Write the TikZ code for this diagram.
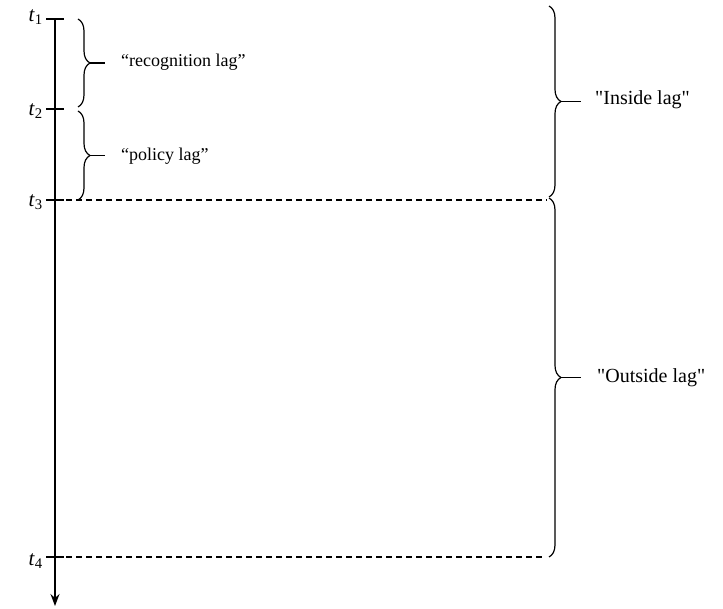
\documentclass[tikz,border=0pt]{standalone}
\usepackage{fontspec}
\setmainfont{Liberation Serif}
\newfontfamily\nomapfont{Liberation Serif}[Ligatures=TeXOff]
\usetikzlibrary{decorations.pathreplacing,arrows.meta}
\newcommand{\sq}{{\nomapfont\symbol{34}}}
\begin{document}
\begin{tikzpicture}[x=1pt,y=-1pt,
  lbl/.style={font=\fontsize{18}{21}\selectfont, anchor=west, inner sep=0pt},
  biglbl/.style={font=\fontsize{20}{23}\selectfont, anchor=west, inner sep=0pt},
  tl/.style={font=\fontsize{21}{24}\selectfont, anchor=east, inner sep=0pt},
  brc/.style={decorate, decoration={brace, amplitude=12pt}, line width=1.2pt},
  tick/.style={line width=1.2pt},
  dsh/.style={line width=1.1pt, dash pattern=on 6pt off 4pt}]
\useasboundingbox (0,0) rectangle (723,609);
% axis points
\coordinate (a1) at (55,19);
\coordinate (a2) at (55,109);
\coordinate (a3) at (55,200);
\coordinate (a4) at (55,557);
\coordinate (aend) at (55,606);
\draw[line width=1.6pt, -{Stealth[length=12pt,width=9pt,inset=4pt]}] (a1) -- (aend);
\foreach \i in {1,2,3,4} \draw[tick] ([xshift=-9pt]a\i) -- ([xshift=9pt]a\i);
\node[tl] (t1) at (43,17) {\textit{t}\textsubscript{1}};
\node[tl] (t2) at (43,111) {\textit{t}\textsubscript{2}};
\node[tl] (t3) at (43,202) {\textit{t}\textsubscript{3}};
\node[tl] (t4) at (43,561) {\textit{t}\textsubscript{4}};
% dashed lines
\coordinate (d3) at (547,200);
\coordinate (d4) at (545,557);
\draw[dsh] ([xshift=11pt]a3) -- (d3);
\draw[dsh] ([xshift=11pt]a4) -- (d4);
% small braces
\coordinate (b1t) at (78,19);
\coordinate (b1b) at (78,107);
\coordinate (b2t) at (78,111);
\coordinate (b2b) at (78,200);
\draw[brc] (b1t) -- (b1b);
\draw[brc] (b2t) -- (b2b);
\coordinate (b1m) at (90,63);
\coordinate (b2m) at (90,155.5);
\node[lbl] (rec) at (121,62) {``recognition lag''};
\node[lbl] (pol) at (121,156) {``policy lag''};
\draw[line width=1.2pt] (b1m) -- ++(15,0);
\draw[line width=1.2pt] (b2m) -- ++(15,0);
% big braces
\coordinate (B1t) at (549,6);
\coordinate (B1b) at (549,197);
\coordinate (B2t) at (549,198);
\coordinate (B2b) at (549,557);
\draw[brc] (B1t) -- (B1b);
\draw[brc] (B2t) -- (B2b);
\coordinate (B1m) at (561,101.5);
\coordinate (B2m) at (561,377.5);
\node[biglbl] (ins) at (595,100) {\sq Inside lag\sq};
\node[biglbl] (out) at (597,378) {\sq Outside lag\sq};
\draw[line width=1.2pt] (B1m) -- ++(20,0);
\draw[line width=1.2pt] (B2m) -- ++(20,0);
\end{tikzpicture}
\end{document}
